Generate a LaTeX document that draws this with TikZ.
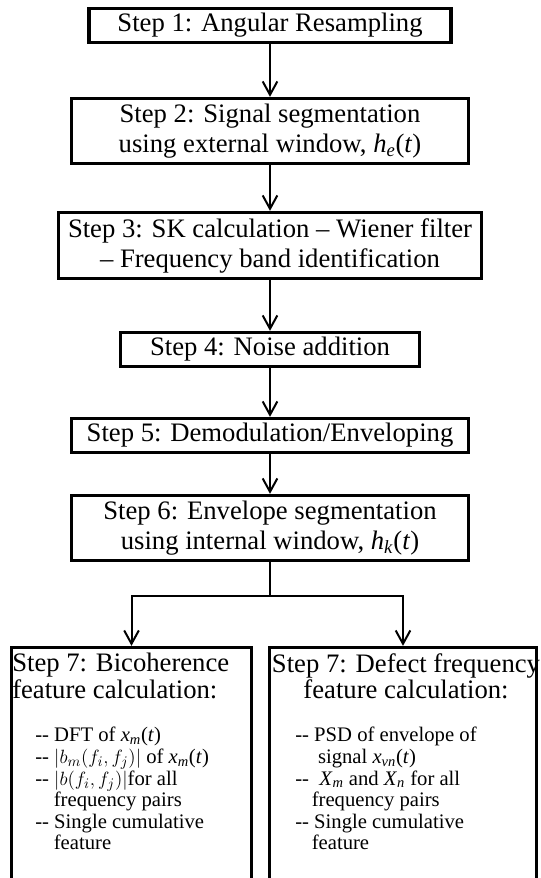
\documentclass[tikz,border=0pt]{standalone}
\usepackage{fontspec}
\setmainfont{Liberation Serif}
\usetikzlibrary{arrows.meta}

% signal with subscript, e.g. h_e(t)
\newcommand{\sigt}[2]{\textit{#1}\textsubscript{\textit{#2}}(\textit{t})}

\begin{document}
\begin{tikzpicture}[x=0.75pt,y=0.75pt,yscale=-1,xscale=1,
    stepbox/.style={draw, line width=2.5pt, inner sep=0pt, align=center, font=\fontsize{20}{22.5}\selectfont},
    featbox/.style={draw, line width=2.5pt, inner sep=0pt},
    headtext/.style={inner sep=0pt, font=\fontsize{20}{20}\selectfont},
    itemtext/.style={inner sep=0pt, align=left, font=\fontsize{15.5}{16.2}\selectfont},
    flow/.style={line width=1.5pt, line join=miter, -{Straight Barb[length=10pt,width=11pt]}}]
        \useasboundingbox (0,0) rectangle (540,878);
        \clip (0,0) rectangle (540,878);

        % Steps 1 to 6
        \node [stepbox, minimum width=362*0.75pt, minimum height=34*0.75pt] (step1) at (270,25.5) {Step 1: Angular Resampling};
        \node [stepbox, minimum width=397*0.75pt, minimum height=65*0.75pt] (step2) at (270,131) {Step 2: Signal segmentation\\using external window, \sigt{h}{e}};
        \node [stepbox, minimum width=423*0.75pt, minimum height=66*0.75pt] (step3) at (270,245.5) {Step 3: SK calculation -- Wiener filter\\-- Frequency band identification};
        \node [stepbox, minimum width=299*0.75pt, minimum height=34*0.75pt] (step4) at (270,349.5) {Step 4: Noise addition};
        \node [stepbox, minimum width=397*0.75pt, minimum height=34*0.75pt] (step5) at (270,435.5) {Step 5: Demodulation/Enveloping};
        \node [stepbox, minimum width=397*0.75pt, minimum height=65*0.75pt] (step6) at (270,528) {Step 6: Envelope segmentation\\using internal window, \sigt{h}{k}};

        % Step 7 boxes
        \node [featbox, minimum width=240*0.75pt, minimum height=252*0.75pt] (bicbox) at (131.5,773.5) {};
        \node [featbox, minimum width=267*0.75pt, minimum height=252*0.75pt] (defbox) at (403,773.5) {};

        % Text Node
        \node [headtext, align=left, anchor=north west] (bichead) at (12,653) {Step 7: Bicoherence\\feature calculation:};
        \node [itemtext, anchor=north west] (biclist) at (35,727) {-{}- DFT of \sigt{x}{m}\\
            -{}- $\big|b_m(f_i,f_j)\big|$ of \sigt{x}{m}\\
            -{}- $\big|b(f_i,f_j)\big|$for all\\
            \hspace*{0.9em}frequency pairs\\
            -{}- Single cumulative\\
            \hspace*{0.9em}feature};
        % Text Node
        \node [headtext, align=center, anchor=north] (defhead) at (406,653) {Step 7: Defect frequency\\feature calculation:};
        \node [itemtext, anchor=north west] (deflist) at (295,727) {-{}- PSD of envelope of\\
            \hspace*{1.1em}signal \textit{x}\textsubscript{\textit{vn}}(\textit{t})\\
            -{}- \ \textit{X}\textsubscript{\textit{m}} and \textit{X}\textsubscript{\textit{n}} for all\\
            \hspace*{0.8em}frequency pairs\\
            -{}- Single cumulative\\
            \hspace*{0.8em}feature};

        % Arrows
        \draw [flow] (step1.south) -- (step2.north);
        \draw [flow] (step2.south) -- (step3.north);
        \draw [flow] (step3.south) -- (step4.north);
        \draw [flow] (step4.south) -- (step5.north);
        \draw [flow] (step5.south) -- (step6.north);
        \coordinate (split) at (270,596);
        \draw [flow] (step6.south) -- (split) -| (bicbox.north);
        \draw [flow] (split) -| (defbox.north);
\end{tikzpicture}
\end{document}
